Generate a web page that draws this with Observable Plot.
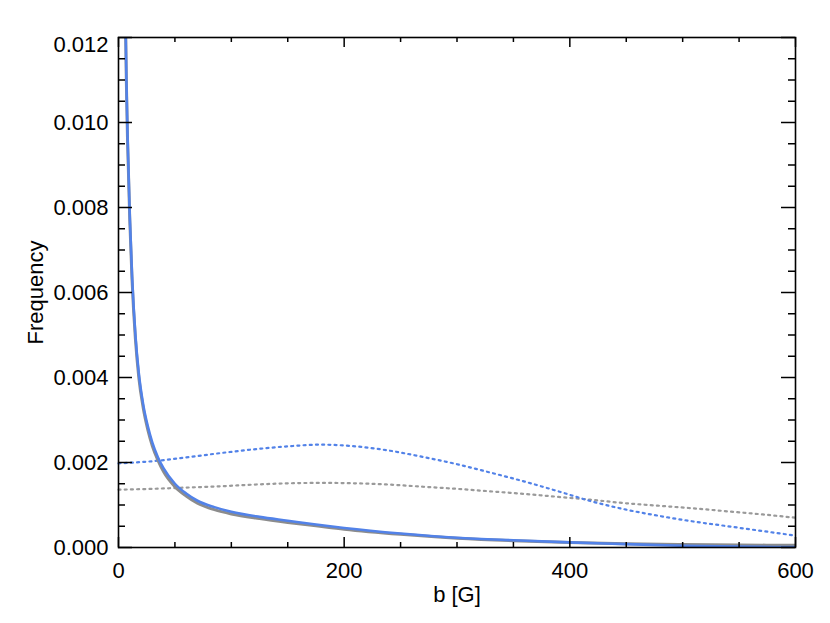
<!DOCTYPE html>
<html>
<head>
<meta charset="utf-8">
<script src="https://cdn.jsdelivr.net/npm/d3@7"></script>
<script src="https://cdn.jsdelivr.net/npm/@observablehq/plot@0.6"></script>
<style>
  html, body { margin: 0; padding: 0; background: #fff; }
</style>
</head>
<body>
<div id="chart"></div>
<script>
// ---- Data ----
const bSolid = [5,6,7,8,10,12,15,18,22,26,30,35,40,50,60,70,85,100,125,150,175,200,250,300,350,400,450,500,550,600];
const blueSolid = [0.0155,0.0128,0.0110,0.0097,0.0078,0.0064,0.0050,0.0041,0.00335,0.00285,0.00247,0.00212,0.00186,0.00150,0.00127,0.00110,0.00095,0.00084,0.00072,0.00063,0.00054,0.00046,0.00033,0.00023,0.00017,0.00012,0.00008,0.00004,0.00002,0.00001];
const graySolid = [0.0153,0.0127,0.0109,0.0096,0.0077,0.0063,0.0049,0.0040,0.00327,0.00277,0.00239,0.00205,0.00178,0.00143,0.00121,0.00104,0.00089,0.00079,0.00068,0.00059,0.00051,0.00043,0.00031,0.00022,0.00016,0.00012,0.00009,0.00007,0.00006,0.00005];

const bDotted = [0,30,60,90,120,150,180,210,240,270,300,330,360,390,420,450,480,510,540,570,600];
const blueDotted = [0.00198,0.00203,0.00212,0.00222,0.00231,0.00238,0.00242,0.00238,0.00228,0.00213,0.00196,0.00176,0.00155,0.00132,0.00108,0.00089,0.00074,0.00061,0.00050,0.00039,0.00028];
const grayDotted = [0.00136,0.00138,0.00141,0.00144,0.00148,0.00151,0.00152,0.00151,0.00148,0.00143,0.00138,0.00132,0.00126,0.00119,0.00112,0.00104,0.00098,0.00092,0.00085,0.00078,0.00070];

const xMajor = [0,200,400,600];
const xMinor = [50,100,150,250,300,350,450,500,550];
const yMajorLabels = [0,0.002,0.004,0.006,0.008,0.010];
const yTopLabel = [0.012];
const yMajor = [0,0.002,0.004,0.006,0.008,0.010,0.012];
const yMinor = [0.0005,0.001,0.0015,0.0025,0.003,0.0035,0.0045,0.005,0.0055,0.0065,0.007,0.0075,0.0085,0.009,0.0095,0.0105,0.011,0.0115];
const xLabel = "b [G]";
const yLabel = "Frequency";

// ---- Layout ----
const W = 830, H = 623, ML = 118, MR = 35, MT = 37, MB = 76;
const innerW = W - ML - MR, innerH = H - MT - MB;
const BLUE = "#5282e8", GRAY_SOLID = "#8c8c8c", GRAY_DOT = "#9a9a9a";

const zip = (xs, ys) => xs.map((x, i) => ({x, y: ys[i]}));

const chart = Plot.plot({
  width: W, height: H,
  marginLeft: ML, marginRight: MR, marginTop: MT, marginBottom: MB,
  style: {fontFamily: "'Liberation Sans', Arial, Helvetica, sans-serif", fontSize: "22px", color: "black", background: "white"},
  x: {domain: [0, 600], axis: null},
  y: {domain: [0, 0.012], axis: null},
  marks: [
    // data
    Plot.line(zip(bDotted, grayDotted), {x: "x", y: "y", stroke: GRAY_DOT, strokeWidth: 2.2, strokeDasharray: "2 4.2", curve: "monotone-x"}),
    Plot.line(zip(bDotted, blueDotted), {x: "x", y: "y", stroke: BLUE, strokeWidth: 2.2, strokeDasharray: "2 4.2", curve: "monotone-x"}),
    Plot.line(zip(bSolid, graySolid), {x: "x", y: "y", stroke: GRAY_SOLID, strokeWidth: 3, curve: "monotone-x", clip: true}),
    Plot.line(zip(bSolid, blueSolid), {x: "x", y: "y", stroke: BLUE, strokeWidth: 2.6, curve: "monotone-x", clip: true}),
    // inward ticks, bottom & top
    Plot.tickX(xMajor, {x: d => d, insetTop: innerH - 10, stroke: "black", strokeWidth: 1.5}),
    Plot.tickX(xMinor, {x: d => d, insetTop: innerH - 5, stroke: "black", strokeWidth: 1.5}),
    Plot.tickX(xMajor, {x: d => d, insetBottom: innerH - 10, stroke: "black", strokeWidth: 1.5}),
    Plot.tickX(xMinor, {x: d => d, insetBottom: innerH - 5, stroke: "black", strokeWidth: 1.5}),
    // inward ticks, left & right
    Plot.tickY(yMajor, {y: d => d, insetRight: innerW - 14, stroke: "black", strokeWidth: 1.5}),
    Plot.tickY(yMinor, {y: d => d, insetRight: innerW - 7, stroke: "black", strokeWidth: 1.5}),
    Plot.tickY(yMajor, {y: d => d, insetLeft: innerW - 14, stroke: "black", strokeWidth: 1.5}),
    Plot.tickY(yMinor, {y: d => d, insetLeft: innerW - 7, stroke: "black", strokeWidth: 1.5}),
    Plot.frame({stroke: "black", strokeWidth: 1.6}),
    // tick labels
    Plot.axisX({ticks: xMajor, tickSize: 0, tickPadding: 15, tickFormat: d => String(d), label: null, fontSize: 22}),
    Plot.axisY({ticks: yMajorLabels, tickSize: 0, tickPadding: 10, tickFormat: d3.format(".3f"), label: null, fontSize: 22}),
    Plot.axisY({ticks: yTopLabel, tickSize: 0, tickPadding: 10, tickFormat: d3.format(".3f"), label: null, fontSize: 22, dy: 7}),
    // axis titles
    Plot.text([xLabel], {text: d => d, frameAnchor: "bottom", lineAnchor: "bottom", dy: 54, fontSize: 22}),
    Plot.text([yLabel], {text: d => d, frameAnchor: "left", textAnchor: "middle", rotate: -90, lineAnchor: "bottom", dx: -76, fontSize: 22})
  ]
});
document.getElementById("chart").appendChild(chart);
</script>
</body>
</html>
